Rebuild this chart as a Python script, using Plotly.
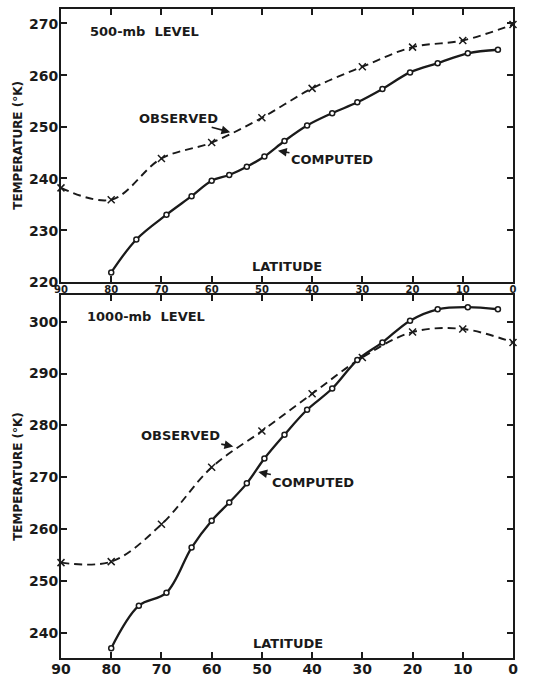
import plotly.graph_objects as go

# ---- data ----
comp500_lat = [80, 75, 69, 64, 60, 56.5, 53, 49.5, 45.5, 41, 36, 31, 26, 20.5, 15, 9, 3]
comp500_t = [221.7, 228.1, 232.9, 236.5, 239.5, 240.6, 242.2, 244.2, 247.2, 250.2,
             252.6, 254.7, 257.3, 260.5, 262.3, 264.2, 264.9]
obs500_lat = [90, 80, 70, 60, 50, 40, 30, 20, 10, 0]
obs500_t = [238.1, 235.8, 243.8, 246.9, 251.7, 257.4, 261.6, 265.4, 266.7, 269.8]

comp1000_lat = [80, 74.5, 69, 64, 60, 56.5, 53, 49.5, 45.5, 41, 36, 31, 26, 20.5, 15, 9, 3]
comp1000_t = [237.0, 245.2, 247.7, 256.4, 261.6, 265.1, 268.8, 273.6, 278.2, 283.0,
              287.1, 292.6, 296.0, 300.2, 302.4, 302.8, 302.4]
obs1000_lat = [90, 80, 70, 60, 50, 40, 30, 20, 10, 0]
obs1000_t = [253.5, 253.7, 260.9, 271.9, 278.9, 286.1, 293.1, 298.0, 298.6, 296.0]

lat_ticks = [90, 80, 70, 60, 50, 40, 30, 20, 10, 0]
t500_ticks = [220, 230, 240, 250, 260, 270]
t1000_ticks = [240, 250, 260, 270, 280, 290, 300]

INK = "#1a1a1a"
FONT = "DejaVu Sans"

fig = go.Figure()

def add_panel(xa, ya, clat, ct, olat, ot):
    fig.add_trace(go.Scatter(
        x=olat, y=ot, xaxis=xa, yaxis=ya, mode="lines+markers",
        line=dict(color=INK, width=1.9, dash="8px,5px", shape="spline"),
        marker=dict(symbol="x-thin-open", size=7, line=dict(color=INK, width=1.5)),
        showlegend=False, hoverinfo="skip", cliponaxis=False))
    fig.add_trace(go.Scatter(
        x=clat, y=ct, xaxis=xa, yaxis=ya, mode="lines+markers",
        line=dict(color=INK, width=2.3, shape="spline"),
        marker=dict(symbol="circle", size=5, color="white", line=dict(color=INK, width=1.5)),
        showlegend=False, hoverinfo="skip"))

add_panel("x", "y", comp500_lat, comp500_t, obs500_lat, obs500_t)
add_panel("x2", "y2", comp1000_lat, comp1000_t, obs1000_lat, obs1000_t)

axis_common = dict(showline=True, linecolor=INK, linewidth=2, mirror="ticks",
                   ticks="inside", ticklen=6, tickwidth=1.5, tickcolor=INK,
                   showgrid=False, zeroline=False, automargin=False)

fig.update_layout(
    width=540, height=677,
    margin=dict(l=61, r=27, t=9, b=19),
    paper_bgcolor="white", plot_bgcolor="white",
    font=dict(family=FONT, color=INK),
    xaxis=dict(domain=[0, 1], anchor="y", range=[90, 0], tickvals=lat_ticks,
               ticklabelstandoff=-3,
               tickfont=dict(size=10, family=FONT, weight="bold"), **axis_common),
    yaxis=dict(domain=[0.5798, 1], anchor="x", range=[219.9, 272.8], tickvals=t500_ticks,
               ticklabelstandoff=-2, ticklabelshift=1,
               tickfont=dict(size=14, family=FONT, weight="bold"),
               title=dict(text="TEMPERATURE (°K)", standoff=4,
                          font=dict(size=12, family=FONT, weight="bold")),
               **axis_common),
    xaxis2=dict(domain=[0, 1], anchor="y2", range=[90, 0], tickvals=lat_ticks,
                ticklabelstandoff=-3,
                tickfont=dict(size=14, family=FONT, weight="bold"), **axis_common),
    yaxis2=dict(domain=[0, 0.5593], anchor="x2", range=[235.1, 305.15], tickvals=t1000_ticks,
                ticklabelstandoff=-2,
                tickfont=dict(size=14, family=FONT, weight="bold"),
                title=dict(text="TEMPERATURE (°K)", standoff=4,
                           font=dict(size=12, family=FONT, weight="bold")),
                **axis_common),
)

txt = dict(family=FONT, size=13, color=INK, weight="bold")
anns = [
    dict(text="500-mb  LEVEL", xref="paper", yref="paper", x=0.0597, y=0.9646,
         xanchor="left", yanchor="middle", showarrow=False, font=txt),
    dict(text="1000-mb  LEVEL", xref="paper", yref="paper", x=0.0531, y=0.5259,
         xanchor="left", yanchor="middle", showarrow=False, font=txt),
    dict(text="LATITUDE", xref="paper", yref="paper", x=0.499, y=0.6025,
         xanchor="center", yanchor="middle", showarrow=False, font=txt),
    dict(text="LATITUDE", xref="paper", yref="paper", x=0.503, y=0.0231,
         xanchor="center", yanchor="middle", showarrow=False, font=txt),
    dict(text="OBSERVED", xref="x", yref="y", x=56.3, y=248.9, ax=-52, ay=-14,
         showarrow=True, arrowhead=2, arrowsize=1.1, arrowwidth=1.6, arrowcolor=INK, font=txt),
    dict(text="COMPUTED", xref="x", yref="y", x=46.8, y=245.3, ax=54, ay=9,
         showarrow=True, arrowhead=2, arrowsize=1.1, arrowwidth=1.6, arrowcolor=INK, font=txt),
    dict(text="OBSERVED", xref="x2", yref="y2", x=55.7, y=275.9, ax=-53, ay=-11,
         showarrow=True, arrowhead=2, arrowsize=1.1, arrowwidth=1.6, arrowcolor=INK, font=txt),
    dict(text="COMPUTED", xref="x2", yref="y2", x=50.7, y=271.0, ax=55, ay=11,
         showarrow=True, arrowhead=2, arrowsize=1.1, arrowwidth=1.6, arrowcolor=INK, font=txt),
]
fig.update_layout(annotations=anns)

fig.write_html("out.html", config={"displayModeBar": False},
               post_script="document.body.style.margin='0';document.body.style.padding='0';")
